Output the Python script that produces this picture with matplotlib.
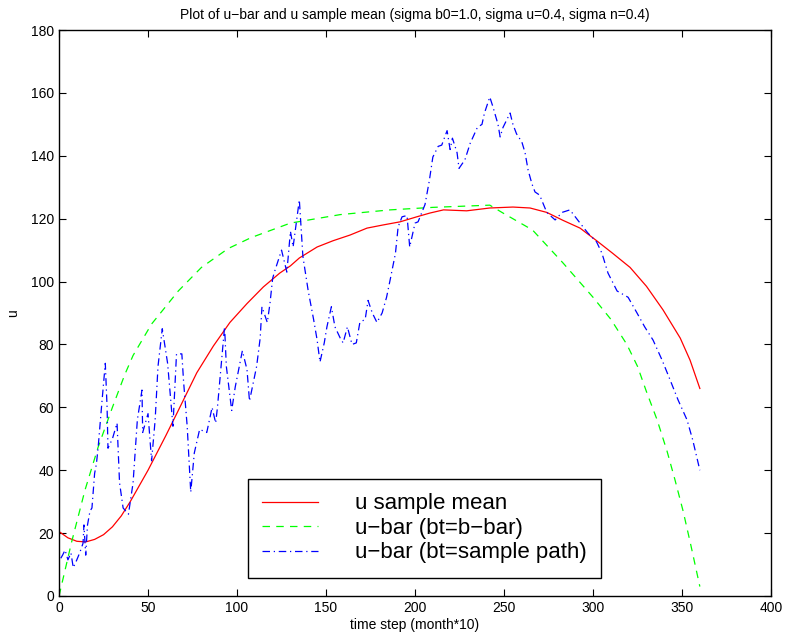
import numpy as np
import matplotlib
matplotlib.use("Agg")
import matplotlib.pyplot as plt

plt.rcParams['font.family'] = ['Liberation Sans', 'DejaVu Sans']

# u sample mean (red)
mean_x = [0, 5, 10, 15, 20, 25, 30, 35, 40, 45, 50, 55, 60, 67, 77.4, 86.7, 96, 105.6,
          114.8, 124, 130, 135, 145, 154, 163.5, 173, 182, 191.6, 201, 208.4, 216, 229,
          242, 255, 264.6, 274, 283, 292.7, 302, 311, 320.8, 330, 339.3, 349, 354.5, 360]
mean_y = [20.5, 18.5, 17.4, 17.2, 18, 19.5, 22, 25.5, 30, 35, 40, 45.5, 51, 59, 71, 79.5,
          87, 93, 98.3, 102.7, 105, 107.5, 111, 113, 114.8, 117, 118, 119, 120.6, 121.8,
          122.8, 122.5, 123.4, 123.7, 123.4, 122, 119.5, 117, 113, 109, 104.5, 98.5, 91,
          82, 75, 66]

# u-bar with bt = b-bar (green)
bbar_x = [0, 7, 14.6, 22, 30, 37, 41.6, 52, 67, 80, 95, 108, 130, 158, 186, 210, 242,
          249.4, 266, 283, 300, 310, 319, 325, 330, 336, 341.6, 346, 350.6, 355, 360]
bbar_y = [0, 17, 33.7, 47.4, 60, 70.5, 76.5, 86.5, 97, 104.5, 110.5, 114, 118.6, 121.3,
          122.8, 123.6, 124.3, 121.8, 116.4, 106, 95, 88, 80, 73, 65, 56, 46, 37, 27, 16, 3]

# u-bar with bt = sample path (blue)
path_x = [1, 2, 3.4, 5, 6.7, 8, 10, 11.8, 13.5, 14, 15, 16, 17.4, 18.5, 20, 21, 22, 24,
          26, 27, 27.5, 30, 32.6, 34, 36, 39, 41.6, 44, 46.6, 47, 50, 52, 54, 55.6, 58,
          61, 64, 66, 69, 70, 72, 74, 76, 79, 83, 86, 88, 89, 93, 94, 97, 99, 103, 105.6,
          107, 111, 113, 114, 117, 118.5, 120, 121, 125, 128, 130, 131.5, 133.7, 135, 137,
          140, 143, 145, 146.6, 149, 150.5, 153, 155, 158, 159.6, 162, 164.6, 167, 169,
          172, 173.6, 176, 178.6, 181.5, 184, 186, 189, 190.5, 192.7, 195.5, 197, 200,
          201.7, 205.6, 208, 210, 213, 215, 218, 219.7, 221, 223.6, 224.7, 228, 231, 235,
          237.6, 239, 242, 243.8, 246.6, 247.8, 249.4, 253.4, 255, 257, 260, 261.8, 263.5,
          265.7, 267.4, 270, 274, 278.7, 282.6, 287, 292.7, 297, 302, 305, 308.4, 313.5,
          319.7, 324.7, 329, 333.7, 338.8, 343.3, 347.8, 352.8, 356, 360]
path_y = [12, 13, 14.6, 11.5, 13.7, 9, 11.5, 14, 16.8, 22.6, 13, 22.6, 27, 28, 39, 42,
          47.4, 61, 74, 60, 47, 50, 55, 36, 28, 26, 36, 56, 65.5, 52, 58, 43, 56, 73, 85,
          74, 54, 77, 77, 68, 54, 33, 45.5, 53, 52, 60, 55, 60, 85.6, 73, 59, 66.5, 78, 72,
          62, 73, 82, 92, 87, 93, 101, 103, 110, 103, 116, 111, 120.6, 126, 108,
          97, 88, 81.4, 74.4, 80.5, 85.6, 92, 85.6, 82, 80.5, 85.6, 80, 80.5, 87,
          88, 94, 90, 87, 90, 95, 100.5, 109, 117.4, 120.6, 121, 111, 118.6,
          119, 124.5, 132, 139.6, 143, 143.4, 148, 142, 145.6, 141, 136, 138.7, 144, 149,
          150, 153.6, 158.7, 155.5, 150, 146, 149, 153.6, 150, 147, 144.4, 141, 135.5,
          131, 128.5, 127.5, 122, 119.6, 122, 122.8, 118.6, 115.5, 112.6, 109, 102.7, 97,
          95, 90, 85.6, 81.4, 75, 68.7, 62.3, 56, 49.6, 40]

fig = plt.figure(figsize=(7.88, 6.43), dpi=100)
ax = fig.add_axes([0.0749, 0.0731, 0.9036, 0.8802])

ax.plot(mean_x, mean_y, '-', color=(1, 0, 0), lw=0.9, label='u sample mean')
ax.plot(bbar_x, bbar_y, '--', color=(0, 1, 0), lw=0.9, dashes=(6, 5),
        label='u\u2212bar (bt=b\u2212bar)')
ax.plot(path_x, path_y, '-.', color=(0, 0, 1), lw=0.9, dashes=(6, 3, 1, 3),
        label='u\u2212bar (bt=sample path)')

ax.set_xlim(0, 400)
ax.set_ylim(0, 180)
ax.set_xticks(np.arange(0, 401, 50))
ax.set_yticks(np.arange(0, 181, 20))
ax.tick_params(direction='in', top=True, right=True, length=5, labelsize=10)
for s in ax.spines.values():
    s.set_linewidth(1.0)

ax.set_title('Plot of u\u2212bar and u sample mean (sigma b0=1.0, sigma u=0.4, sigma n=0.4)',
             fontsize=10, pad=8)
ax.set_xlabel('time step (month*10)', fontsize=10, labelpad=2)
ax.set_ylabel('u', fontsize=10, labelpad=8)

leg = ax.legend(loc='lower left', bbox_to_anchor=(0.265, 0.032), borderaxespad=0,
                fontsize=16, fancybox=False, framealpha=1, edgecolor='black',
                handlelength=2.5, handletextpad=1.67, labelspacing=0.16, borderpad=0.65)
leg.get_frame().set_linewidth(1.0)

fig.savefig('out.png', dpi=100)
